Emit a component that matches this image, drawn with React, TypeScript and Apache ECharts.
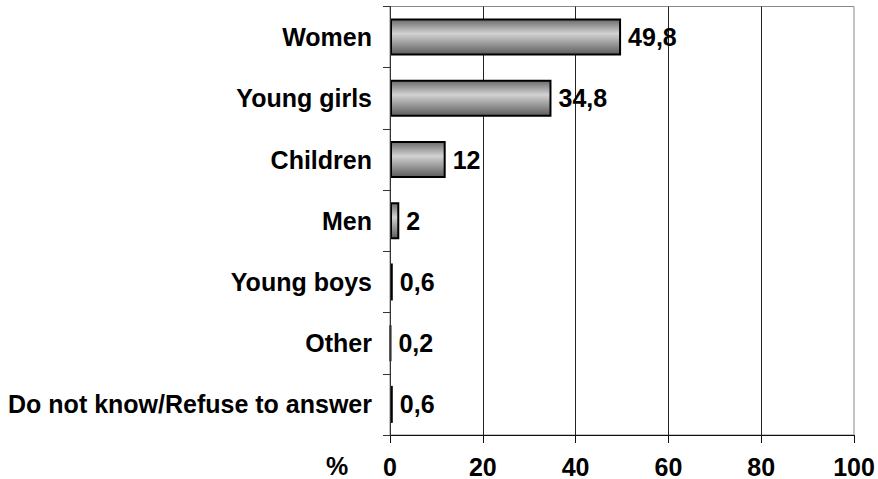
import React, { useEffect, useRef } from "react";
import * as echarts from "echarts";

// Who the answers were about, top to bottom
const categories = [
  "Women",
  "Young girls",
  "Children",
  "Men",
  "Young boys",
  "Other",
  "Do not know/Refuse to answer",
];

// Share of answers, in percent
const shares = [49.8, 34.8, 12, 2, 0.6, 0.2, 0.6];

// Value axis ticks
const axisMin = 0;
const axisMax = 100;
const axisStep = 20;

const FONT = "'Liberation Sans', Arial, sans-serif";
const SIZE = 25;

const fmt = (v: number) => String(v).replace(".", ",");

export default function App() {
  const ref = useRef<HTMLDivElement>(null);

  useEffect(() => {
    if (!ref.current) return;
    const chart = echarts.init(ref.current, null, { renderer: "svg" });

    const barFill = new echarts.graphic.LinearGradient(0, 0, 0, 1, [
      { offset: 0, color: "#6c6c6c" },
      { offset: 0.4, color: "#d2d2d2" },
      { offset: 1, color: "#5c5c5c" },
    ]);

    chart.setOption({
      animation: false,
      backgroundColor: "#ffffff",
      textStyle: { fontFamily: FONT },
      grid: {
        left: 390,
        right: 24,
        top: 6.5,
        bottom: 43.5,
        show: true,
        borderColor: "#8a8a8a",
        borderWidth: 1,
        backgroundColor: "transparent",
      },
      xAxis: {
        type: "value",
        min: axisMin,
        max: axisMax,
        interval: axisStep,
        axisLine: { show: true, lineStyle: { color: "#111", width: 1 } },
        axisTick: { show: true, length: 8, lineStyle: { color: "#111" } },
        axisLabel: {
          margin: 19,
          color: "#000",
          fontSize: SIZE,
          fontWeight: "bold",
          fontFamily: FONT,
          formatter: (v: number) => fmt(v),
        },
        splitLine: {
          show: true,
          showMinLine: false,
          showMaxLine: false,
          lineStyle: { color: "#222", width: 1 },
        },
      },
      yAxis: {
        type: "category",
        inverse: true,
        data: categories,
        z: 5,
        axisLine: { show: true, lineStyle: { color: "#333", width: 1 } },
        axisTick: { show: true, length: 7, lineStyle: { color: "#333" } },
        axisLabel: {
          margin: 18,
          color: "#000",
          fontSize: SIZE,
          fontWeight: "bold",
          fontFamily: FONT,
        },
        splitLine: { show: false },
      },
      series: [
        {
          type: "bar",
          data: shares,
          barWidth: 37,
          z: 2,
          itemStyle: {
            color: barFill,
            borderColor: "#000",
            borderWidth: 2,
          },
          label: {
            show: true,
            position: "right",
            distance: 7,
            color: "#000",
            fontSize: SIZE,
            fontWeight: "bold",
            fontFamily: FONT,
            formatter: (p: any) => fmt(p.value),
          },
        },
      ],
      graphic: [
        {
          type: "text",
          left: 326,
          top: 453,
          style: {
            text: "%",
            fill: "#000",
            font: `bold ${SIZE}px ${FONT}`,
          },
        },
      ],
    });

    return () => chart.dispose();
  }, []);

  return (
    <div
      ref={ref}
      style={{
        position: "fixed",
        left: 0,
        top: 0,
        width: 878,
        height: 479,
        background: "#fff",
      }}
    />
  );
}
